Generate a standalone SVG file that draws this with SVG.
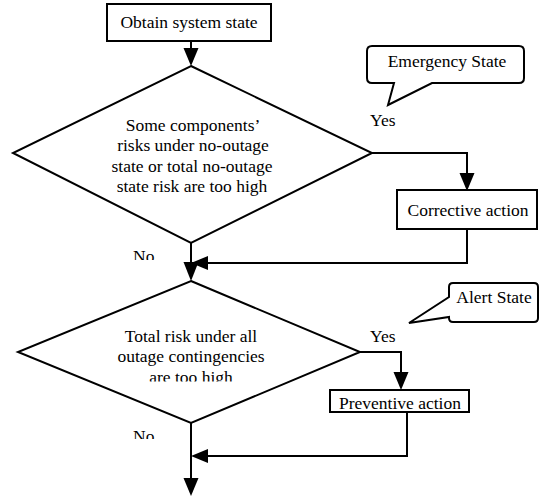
<svg xmlns="http://www.w3.org/2000/svg" width="539" height="499" viewBox="0 0 539 499">
<style>
.shape{fill:#fff;stroke:#000;stroke-width:2;stroke-linejoin:miter}
.line{fill:none;stroke:#000;stroke-width:2}
.arrow{fill:#000;stroke:none}
.c{text-anchor:middle}
.t{font-family:'Liberation Serif','Times New Roman','DejaVu Serif',serif;font-size:17.5px;fill:#000}
</style>
<defs>
<clipPath id="clipNo1"><rect x="120" y="240" width="50" height="20"/></clipPath>
<clipPath id="clipNo2"><rect x="120" y="420" width="50" height="19"/></clipPath>
<clipPath id="clipD2"><rect x="60" y="280" width="260" height="101.5"/></clipPath>
</defs>
<g id="connectors">
<line class="line" x1="191" y1="41" x2="191" y2="50"/>
<polygon class="arrow" points="183.5,48 198.5,48 191,66"/>
<polyline class="line" points="372,153 467,153 467,175"/>
<polygon class="arrow" points="459.5,173 474.5,173 467,191"/>
<polyline class="line" points="467,229 467,263 206,263"/>
<polygon class="arrow" points="208,256 208,270 191,263"/>
<line class="line" x1="191" y1="243" x2="191" y2="264"/>
<polygon class="arrow" points="183.5,262 198.5,262 191,281"/>
<polyline class="line" points="360,352 401,352 401,373"/>
<polygon class="arrow" points="393.5,372 408.5,372 401,390"/>
<polyline class="line" points="407,412 407,456 206,456"/>
<polygon class="arrow" points="208,449 208,463 191,456"/>
<line class="line" x1="191" y1="423" x2="191" y2="480"/>
<polygon class="arrow" points="183.5,478 198.5,478 191,496"/>
</g>
<g id="obtain">
<rect class="shape" x="107" y="4" width="164" height="37"/>
<text class="t c" x="189" y="28">Obtain system state</text>
</g>
<g id="decision1">
<polygon class="shape" points="191,66 372,153 191,243 13,153"/>
<text class="t c" x="193" y="131">Some components’</text>
<text class="t c" x="193" y="151">risks under no-outage</text>
<text class="t c" x="192" y="172">state or total no-outage</text>
<text class="t c" x="192" y="192">state risk are too high</text>
</g>
<g id="emergency">
<path class="shape" d="M372,46 H519 Q524,46 524,51 V78 Q524,83 519,83 H432 L388,105 L394,83 H372 Q367,83 367,78 V51 Q367,46 372,46 Z"/>
<text class="t c" x="447" y="67">Emergency State</text>
</g>
<g id="yes1"><text class="t" x="370" y="126">Yes</text></g>
<g id="corrective">
<rect class="shape" x="397" y="190" width="140" height="39"/>
<text class="t c" x="468" y="216">Corrective action</text>
</g>
<g id="no1"><text class="t" x="133" y="262" clip-path="url(#clipNo1)">No</text></g>
<g id="decision2">
<polygon class="shape" points="191,281 360,352 191,423 18,352"/>
<text class="t c" x="191" y="342">Total risk under all</text>
<text class="t c" x="191" y="362">outage contingencies</text>
<text class="t c" x="191" y="383" clip-path="url(#clipD2)">are too high</text>
</g>
<g id="alert">
<path class="shape" d="M453,283 H534 Q538,283 538,287 V318 Q538,322 534,322 H453 Q449,322 449,318 V317 L409,323 L449,297 V287 Q449,283 453,283 Z"/>
<text class="t c" x="494" y="303">Alert State</text>
</g>
<g id="yes2"><text class="t" x="370" y="342">Yes</text></g>
<g id="preventive">
<rect class="shape" x="330" y="390" width="139" height="22"/>
<text class="t c" x="400" y="409">Preventive action</text>
</g>
<g id="no2"><text class="t" x="133" y="442" clip-path="url(#clipNo2)">No</text></g>
</svg>
